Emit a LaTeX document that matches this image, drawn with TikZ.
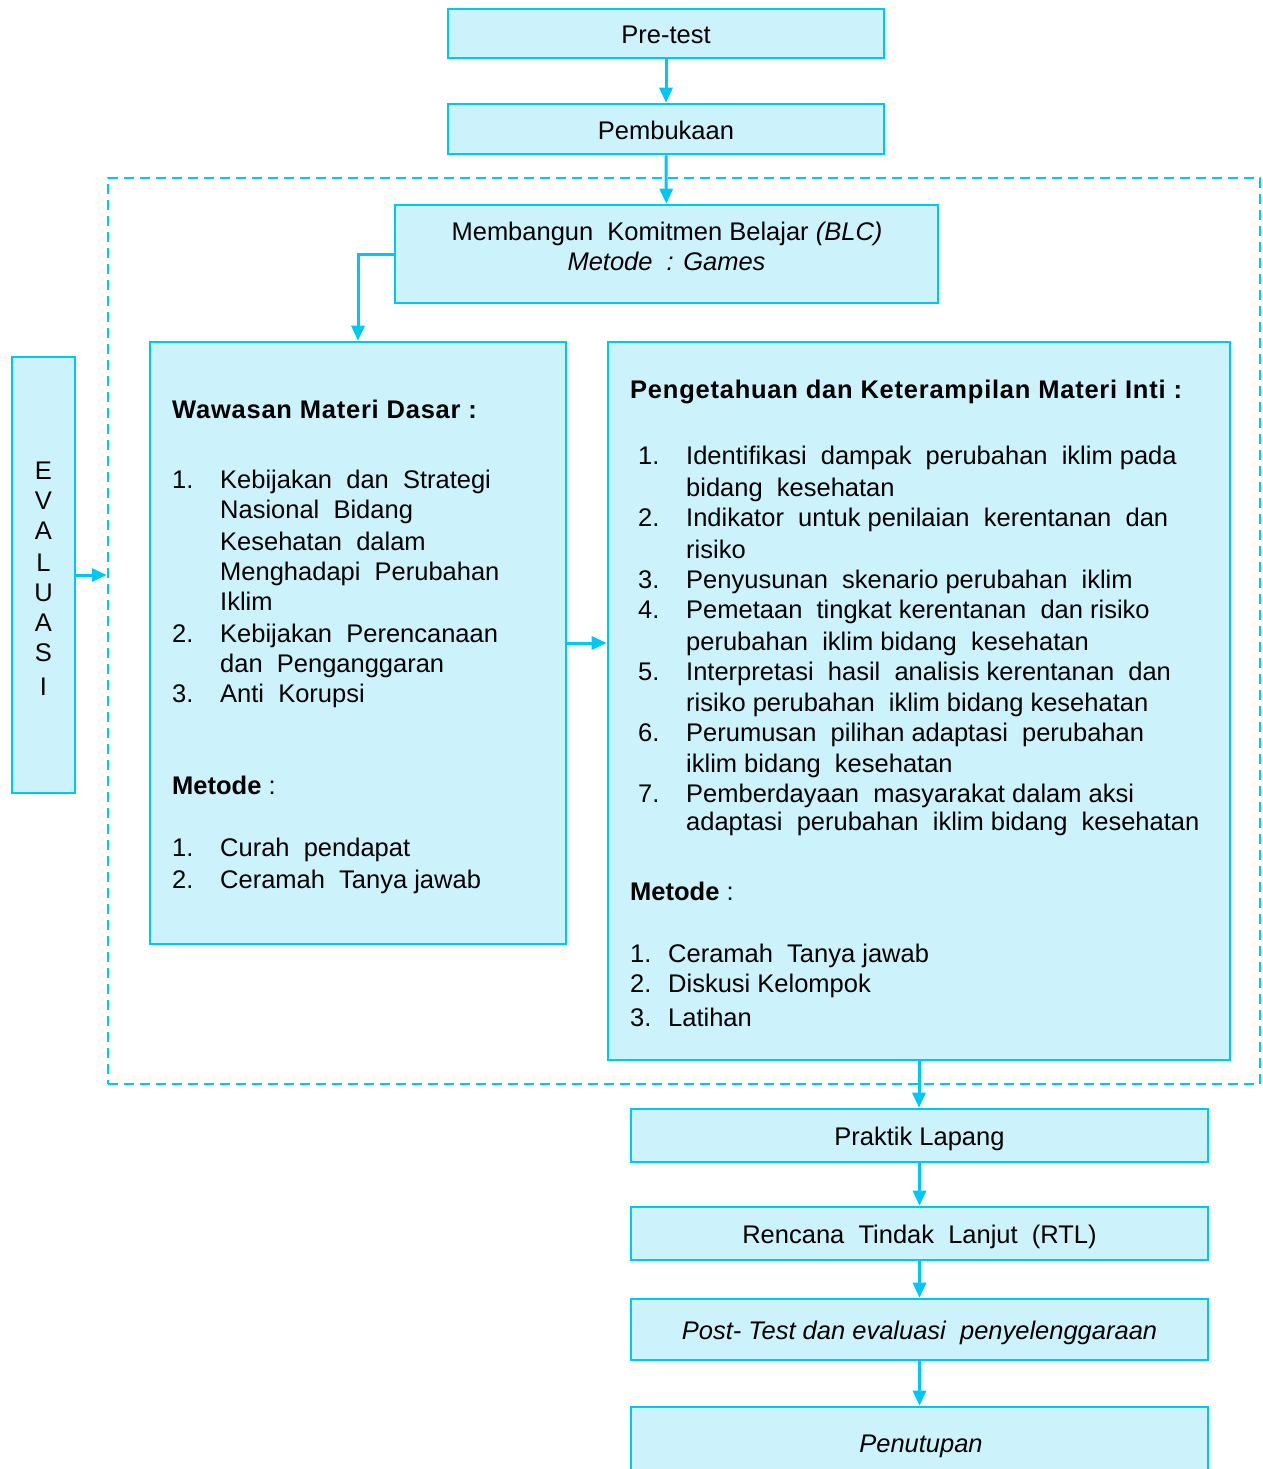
\documentclass[tikz,border=0pt]{standalone}
\usepackage{fontspec}
\setmainfont{Liberation Sans}
\usetikzlibrary{arrows.meta}
\definecolor{bord}{RGB}{0,200,245}
\definecolor{fillc}{RGB}{204,242,252}
\newcommand\bodyfont{\fontsize{25.5}{30}\selectfont}
\newcommand\titlefont{\fontsize{25.5}{30}\selectfont\bfseries\addfontfeature{LetterSpace=3}}
\newcommand\lowered[1]{\raisebox{-10pt}[0pt][0pt]{#1}}
\begin{document}
\begin{tikzpicture}[x=1pt,y=-1pt,
  box/.style={draw=bord, fill=fillc, line width=2.6pt, inner sep=0pt, font=\bodyfont},
  arr/.style={draw=bord, line width=3pt, -{Triangle[length=15pt,width=13pt]}},
  txt/.style={anchor=base west, inner sep=0pt, font=\bodyfont},
  ctxt/.style={anchor=base, inner sep=0pt, font=\bodyfont}]
\useasboundingbox (0,0) rectangle (1262,1469);
\fill[white] (0,0) rectangle (1262,1469);
\clip (0,0) rectangle (1262,1469);

% boxes
\node[box, minimum width=436pt, minimum height=49pt] (pre) at (666,33.5) {\lowered{Pre-test}};
\node[box, minimum width=436pt, minimum height=50pt] (pemb) at (666,129) {\lowered{Pembukaan}};
\node[draw=bord, line width=2.5pt, dash pattern=on 10pt off 6pt, minimum width=1152pt, minimum height=906pt, inner sep=0pt] (frame) at (684,631) {};
\node[box, minimum width=543pt, minimum height=98pt] (blc) at (666.5,254) {};
\node[box, minimum width=416pt, minimum height=602pt] (wawasan) at (358,643) {};
\node[box, minimum width=622pt, minimum height=718pt] (inti) at (919,701) {};
\node[box, minimum width=63pt, minimum height=436pt] (eval) at (43.5,575) {};
\node[box, minimum width=577pt, minimum height=53pt] (praktik) at (919.5,1135.5) {\lowered{Praktik Lapang}};
\node[box, minimum width=577pt, minimum height=53pt] (rtl) at (919.5,1233.5) {\lowered{Rencana\ \ Tindak\ \ Lanjut\ \ (RTL)}};
\node[box, minimum width=577pt, minimum height=61pt] (post) at (919.5,1329.5) {\lowered{\itshape Post- Test dan evaluasi\ \ penyelenggaraan}};
\node[box, minimum width=577pt, minimum height=93pt] (penutup) at (919.5,1453.5) {};
\node[ctxt] (tpen) at (921,1452) {\itshape Penutupan};

% BLC text
\node[ctxt] (blc1) at (667,240) {Membangun\ \ Komitmen\ Belajar\ \textit{(BLC)}};
\node[ctxt] (blc2) at (666.5,270) {\itshape Metode\ \ : Games};

% EVALUASI letters
\foreach \y/\c [count=\i] in {479/E,509/V,539/A,571/L,601/U,631/A,661/S,695/I}
  \node[ctxt] (ev\i) at (43.5,\y) {\c};

% left box text
\node[txt, font=\titlefont] (wtitle) at (172,418) {Wawasan Materi Dasar :};
\foreach \y/\n [count=\i] in {488/1.,642/2.,702/3.,856/1.,888/2.}
  \node[txt] (wn\i) at (172,\y) {\n};
\foreach \y/\t [count=\i] in {488/Kebijakan\ \ dan\ \ Strategi, 518/Nasional\ \ Bidang, 550/Kesehatan\ \ dalam, 580/Menghadapi\ \ Perubahan, 610/Iklim, 642/Kebijakan\ \ Perencanaan, 672/dan\ \ Penganggaran, 702/Anti\ \ Korupsi, 856/Curah\ \ pendapat, 888/Ceramah\ \ Tanya jawab}
  \node[txt] (wl\i) at (220,\y) {\t};
\node[txt] (wmet) at (172,794) {\textbf{Metode} :};

% right box text
\node[txt, font=\titlefont] (ititle) at (630,398) {Pengetahuan dan Keterampilan Materi Inti :};
\foreach \y/\n [count=\i] in {464/1.,526/2.,588/3.,618/4.,680/5.,741/6.,802/7.}
  \node[txt] (in\i) at (638,\y) {\n};
\foreach \y/\t [count=\i] in {464/Identifikasi\ \ dampak\ \ perubahan\ \ iklim pada, 496/bidang\ \ kesehatan, 526/Indikator\ \ untuk penilaian\ \ kerentanan\ \ dan, 558/risiko, 588/Penyusunan\ \ skenario perubahan\ \ iklim, 618/Pemetaan\ \ tingkat kerentanan\ \ dan risiko, 650/perubahan\ \ iklim bidang\ \ kesehatan, 680/Interpretasi\ \ hasil\ \ analisis kerentanan\ \ dan, 711/risiko perubahan\ \ iklim bidang kesehatan, 741/Perumusan\ \ pilihan adaptasi\ \ perubahan, 772/iklim bidang\ \ kesehatan, 802/Pemberdayaan\ \ masyarakat dalam aksi, 830/adaptasi\ \ perubahan\ \ iklim bidang\ \ kesehatan}
  \node[txt] (il\i) at (686,\y) {\t};
\node[txt] (imet) at (630,900) {\textbf{Metode} :};
\foreach \y/\n/\t [count=\i] in {962/1./Ceramah\ \ Tanya jawab, 992/2./Diskusi Kelompok, 1026/3./Latihan}
  {\node[txt] (mn\i) at (630,\y) {\n};
   \node[txt] (ml\i) at (668,\y) {\t};}

% connectors
\draw[arr] (pre) -- (pemb);
\draw[arr] (pemb) -- (blc);
\draw[arr] (blc.west) -| (wawasan.north);
\draw[arr] (wawasan.east) -- (wawasan.east -| inti.west);
\draw[arr] (eval.east) -- (eval.east -| frame.west);
\draw[arr] (inti.south) -- (inti.south |- praktik.north);
\draw[arr] (praktik) -- (rtl);
\draw[arr] (rtl) -- (post);
\draw[arr] (post.south) -- (post.south |- penutup.north);
\end{tikzpicture}
\end{document}
